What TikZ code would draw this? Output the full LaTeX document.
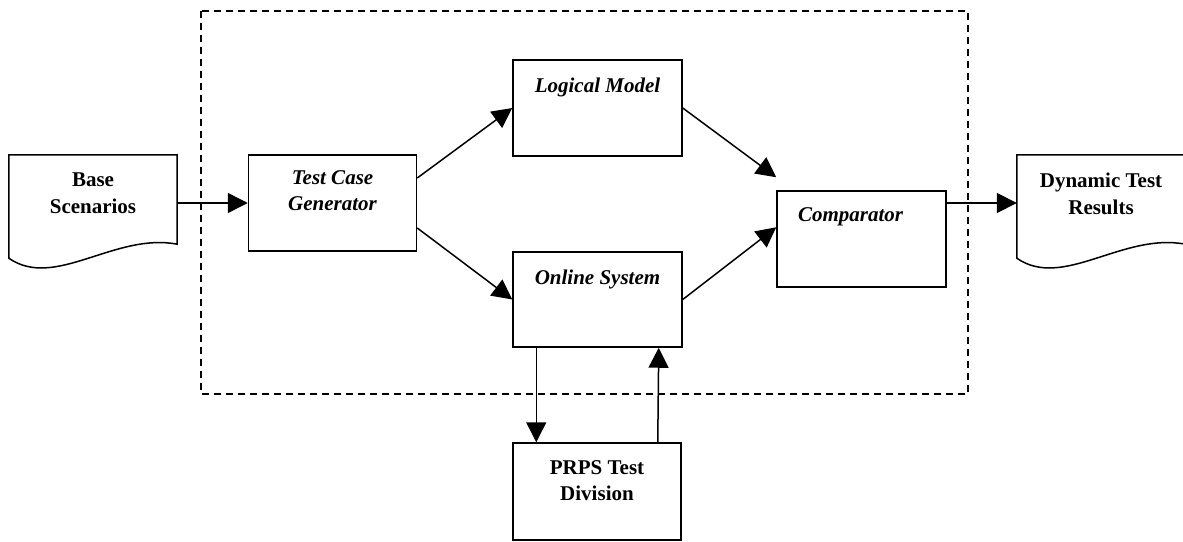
\documentclass[tikz,border=0pt]{standalone}
\usepackage{fontspec}
\setmainfont{Liberation Serif}
\usetikzlibrary{arrows.meta,calc}

% paper-like document outline with a wavy bottom edge
\newcommand\docshape[1]{%
  \draw[outline] (#1.north west) -- (#1.north east)
    -- ($(#1.south east)+(0,-7)$)
    .. controls ($(#1.south west)+(106,-19)$) and ($(#1.south west)+(46,39)$)
    .. ($(#1.south west)+(0,7)$) -- cycle;}

\begin{document}
\begin{tikzpicture}[x=1pt,y=-1pt,
  outline/.style={line width=1.5pt, line join=miter},
  box/.style={draw, line width=1.5pt, inner sep=0pt, minimum width=168pt, minimum height=96pt},
  docbox/.style={draw=none, inner sep=0pt, minimum width=168pt, minimum height=96pt},
  lbl/.style={anchor=north, inner sep=0pt, align=center, font=\fontsize{21}{26.5}\selectfont\bfseries},
  ilbl/.style={lbl, font=\fontsize{21}{26.5}\selectfont\bfseries\itshape},
  arr/.style={line width=1.5pt, -{Triangle[length=20pt,width=20pt]}},
  frame/.style={line width=1.3pt, dash pattern=on 7pt off 5pt}]
\useasboundingbox (0,0) rectangle (1183,541);

% system boundary
\draw[frame] (201,11) rectangle (968,394);

% documents
\node[docbox] (bs) at (93,203) {};
\docshape{bs}
\node[lbl] (bst) at ($(bs.north)+(0,18)$) {Base\\Scenarios};

\node[docbox] (dtr) at (1101,203) {};
\docshape{dtr}
\node[lbl] (dtrt) at ($(dtr.north)+(0,18)$) {Dynamic Test\\Results};

% processes
\node[box] (tcg) at (332.5,203) {};
\node[ilbl] (tcgt) at ($(tcg.north)+(0,16)$) {Test Case\\Generator};

\node[box, minimum width=169pt] (lm) at (597.5,108) {};
\node[ilbl] (lmt) at ($(lm.north)+(0,18)$) {Logical Model};

\node[box, minimum width=169pt, minimum height=95pt] (os) at (597.5,299.5) {};
\node[ilbl] (ost) at ($(os.north)+(0,18)$) {Online System};

\node[box, minimum width=169pt] (cmp) at (861.5,239) {};
\node[ilbl] (cmpt) at ($(cmp.north)+(-11,17)$) {Comparator};

\node[box, minimum width=168pt, minimum height=97pt] (prps) at (597,491.5) {};
\node[lbl] (prpst) at ($(prps.north)+(0,18)$) {PRPS Test\\Division};

% end points of the connectors into the comparator
\coordinate (cin1) at ($(cmp.north west)+(0,-13)$);
\coordinate (cin2) at ($(cmp.north west)+(0,37)$);

% connectors
\draw[arr] (bs.east) -- (tcg.west);
\draw[arr] ($(tcg.east)+(0,-25)$) -- (lm.west);
\draw[arr] ($(tcg.east)+(0,25)$) -- (os.west);
\draw[arr] (lm.east) -- (cin1);
\draw[arr] (os.east) -- (cin2);
\draw[arr] (cmp.east |- dtr.west) -- (dtr.west);
\draw[arr] ($(os.south west)+(24,0)$) -- ($(prps.north west)+(24,0)$);
\draw[arr] ($(prps.north east)+(-24,0)$) -- ($(os.south east)+(-24,0)$);
\end{tikzpicture}
\end{document}
